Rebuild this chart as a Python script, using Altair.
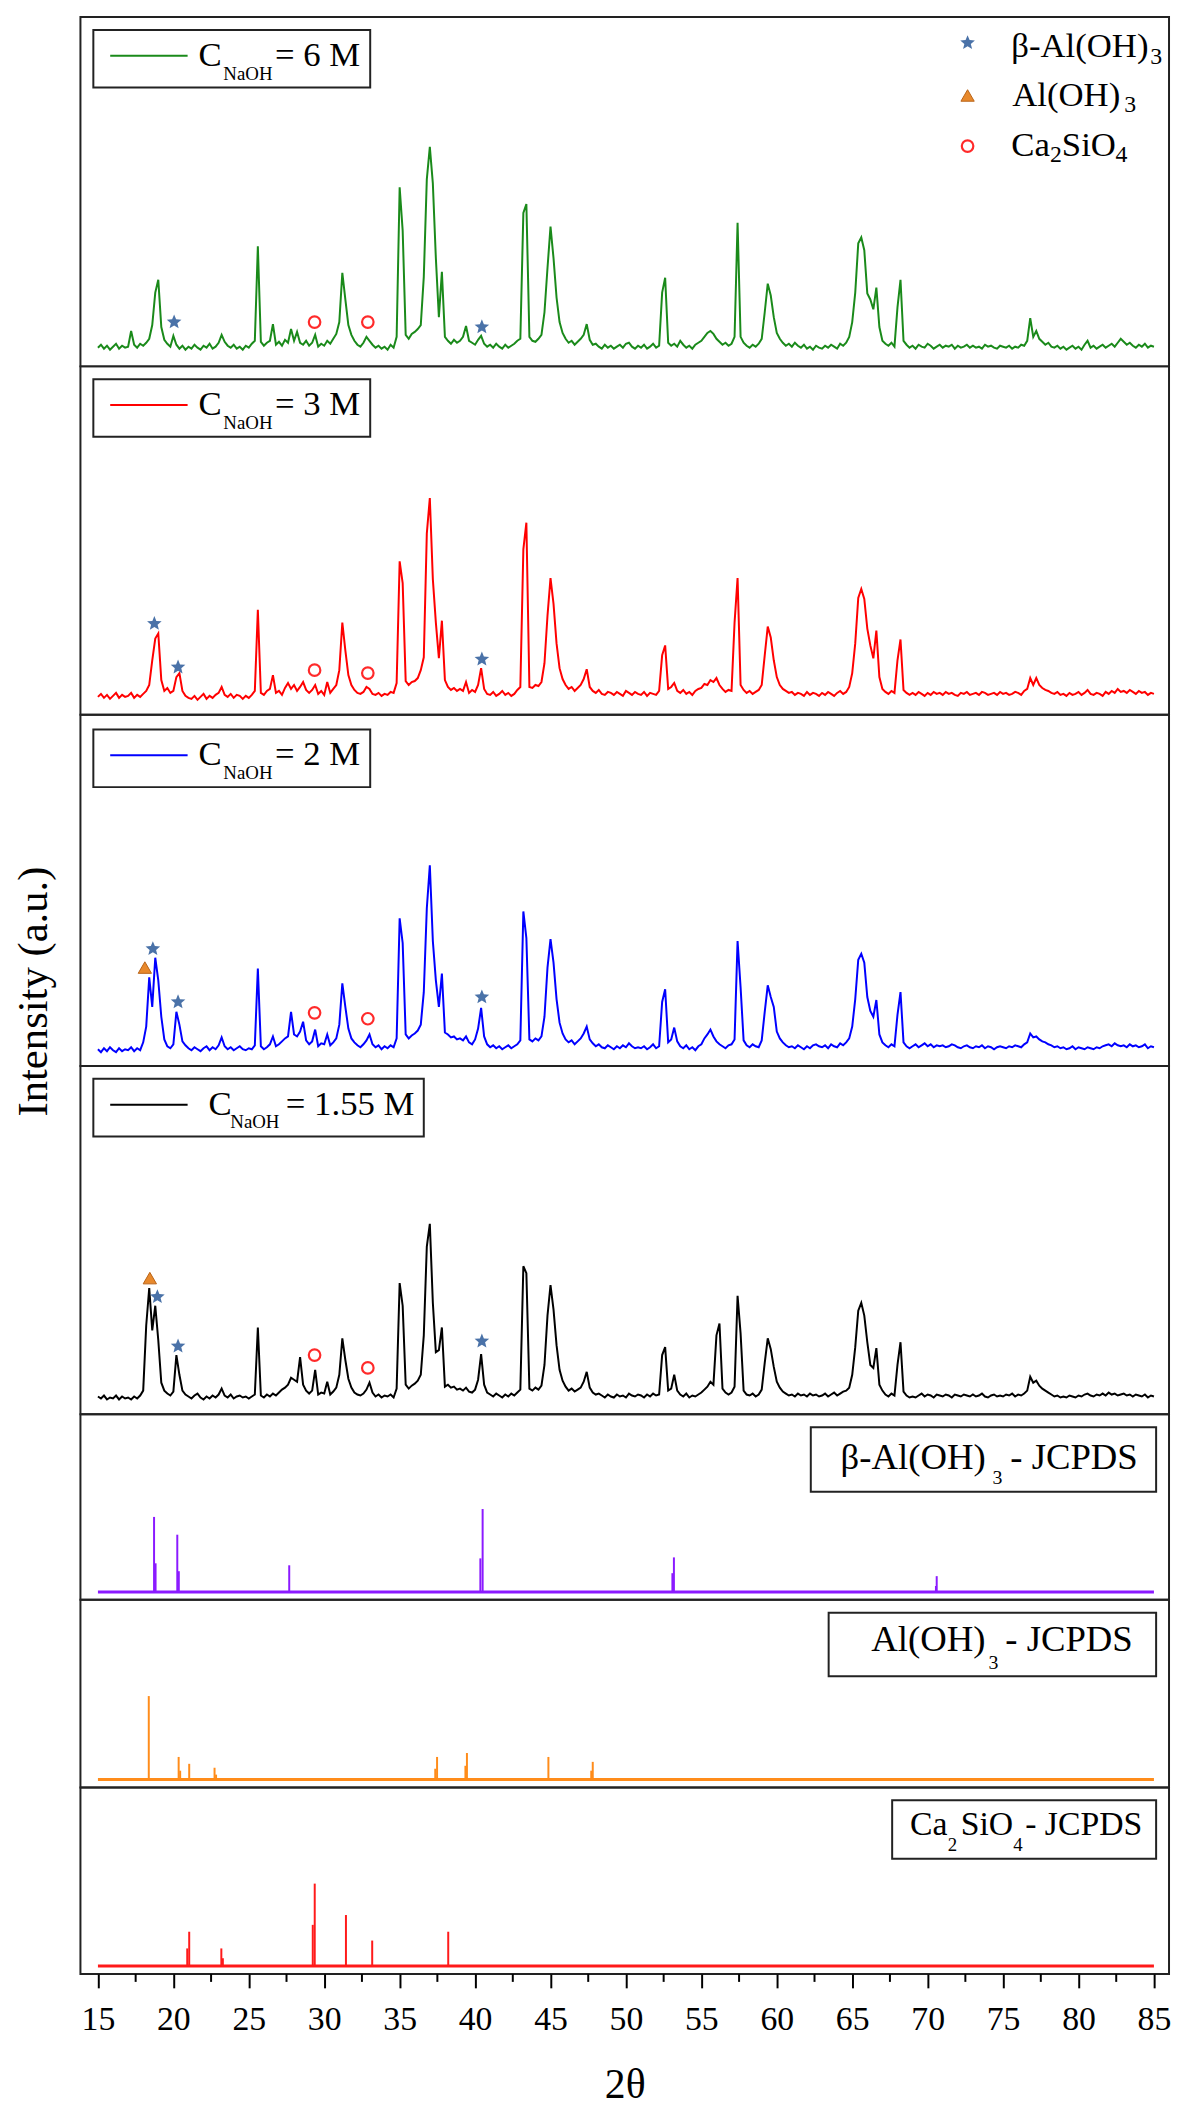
import altair as alt
import pandas as pd

FONT = "'Liberation Serif', 'Times New Roman', 'DejaVu Serif', serif"
W = 1097
XDOM = [13.84, 86.0]

# 2-theta scan positions (instrument step 0.2 deg)
two_theta = [round(15 + 0.2 * i, 1) for i in range(351)]

I_6M = [
    19, 22, 18, 21, 17, 20, 23, 18, 21, 19,
    20, 36, 22, 19, 23, 21, 24, 28, 42, 75,
    88, 40, 27, 23, 20, 31, 22, 18, 21, 17,
    20, 18, 22, 19, 17, 21, 19, 23, 18, 20,
    24, 32, 25, 21, 19, 22, 18, 20, 17, 21,
    19, 23, 26, 122, 25, 21, 24, 26, 43, 22,
    25, 21, 27, 24, 38, 26, 35, 24, 22, 26,
    21, 24, 32, 20, 23, 21, 26, 23, 28, 33,
    45, 95, 68, 42, 32, 26, 22, 20, 24, 30,
    26, 22, 19, 21, 18, 20, 17, 22, 19, 30,
    182, 138, 32, 28, 33, 35, 38, 42, 91, 190,
    223, 186, 110, 50, 96, 30, 26, 23, 27, 24,
    26, 30, 41, 26, 24, 22, 27, 31, 23, 20,
    22, 19, 23, 20, 18, 22, 19, 21, 23, 26,
    28, 156, 165, 30, 26, 25, 28, 32, 55, 100,
    142, 110, 70, 45, 34, 28, 24, 26, 22, 25,
    28, 32, 43, 27, 22, 23, 20, 18, 22, 19,
    21, 18, 20, 22, 19, 23, 24, 20, 18, 21,
    19, 22, 18, 20, 23, 19, 21, 75, 90, 24,
    21, 23, 20, 26, 22, 19, 21, 18, 22, 24,
    26, 30, 34, 36, 33, 28, 25, 22, 24, 21,
    23, 30, 146, 30, 24, 21, 19, 22, 20, 23,
    28, 55, 84, 72, 50, 34, 28, 24, 21, 23,
    20, 24, 21, 19, 22, 18, 20, 17, 21, 19,
    18, 21, 19, 22, 20, 18, 23, 21, 24, 30,
    45, 75, 125, 131, 118, 74, 68, 58, 80, 40,
    26, 23, 21, 24, 20, 60, 88, 26, 22, 19,
    21, 18, 22, 20, 19, 23, 21, 18, 20, 22,
    19, 21, 20, 22, 18, 21, 19, 20, 22, 19,
    21, 19, 20, 18, 22, 20, 21, 19, 18, 21,
    20, 19, 21, 18, 20, 19, 22, 21, 26, 49,
    30, 36, 28, 25, 22, 24, 20, 19, 21, 18,
    20, 17, 19, 21, 18, 20, 17, 22, 26, 19,
    21, 18, 20, 22, 19, 21, 23, 20, 24, 28,
    25, 22, 24, 21, 19, 22, 20, 23, 19, 21,
    20,
]

I_3M = [
    18, 21, 17, 20, 16, 19, 22, 17, 20, 18,
    19, 22, 17, 20, 18, 21, 24, 30, 55, 77,
    82, 35, 24, 27, 22, 24, 38, 42, 24, 19,
    17, 16, 19, 15, 18, 21, 16, 19, 17, 20,
    22, 28, 20, 18, 21, 17, 20, 19, 16, 19,
    17, 20, 24, 106, 22, 20, 24, 26, 40, 22,
    24, 20, 27, 32, 26, 30, 24, 28, 33, 25,
    22, 25, 30, 21, 24, 20, 33, 22, 26, 30,
    45, 93, 65, 40, 30, 25, 22, 21, 23, 28,
    26, 21, 20, 22, 19, 21, 20, 23, 22, 32,
    155, 133, 34, 30, 33, 34, 37, 45, 58, 183,
    219, 137, 93, 57, 95, 35, 28, 25, 27, 24,
    26, 24, 33, 22, 25, 23, 30, 47, 26, 21,
    20, 23, 19, 21, 24, 20, 22, 19, 21, 25,
    28, 167, 194, 28, 27, 30, 29, 33, 52, 100,
    138, 112, 72, 47, 36, 30, 26, 28, 24, 27,
    30, 36, 46, 28, 24, 22, 25, 21, 20, 23,
    22, 20, 23, 21, 19, 24, 22, 20, 23, 21,
    20, 23, 19, 22, 21, 20, 24, 60, 70, 26,
    28, 32, 24, 22, 25, 21, 23, 20, 24, 26,
    27, 31, 30, 35, 33, 37, 30, 26, 23, 25,
    24, 93, 138, 30, 25, 22, 24, 21, 23, 25,
    30, 60, 89, 78, 55, 38, 30, 26, 24, 22,
    23, 20, 22, 21, 19, 23, 20, 22, 21, 19,
    22, 20, 23, 21, 19, 22, 24, 21, 23, 28,
    42, 72, 118, 127, 117, 87, 70, 57, 85, 38,
    26, 23, 21, 24, 22, 55, 76, 25, 22, 20,
    22, 20, 23, 21, 19, 22, 20, 23, 21, 22,
    20, 23, 21, 22, 20, 19, 22, 21, 23, 20,
    21, 22, 20, 23, 22, 20, 21, 22, 20, 23,
    21, 22, 20, 21, 23, 22, 20, 24, 26, 37,
    30, 37, 30, 27, 25, 24, 22, 21, 23, 20,
    21, 19, 22, 20, 21, 23, 20, 22, 25, 21,
    20, 22, 21, 19, 23, 21, 24, 22, 26, 23,
    24, 22, 25, 23, 21, 24, 22, 23, 20, 22,
    21,
]

I_2M = [
    17, 14, 18, 15, 19, 16, 14, 18, 15, 17,
    16, 19, 15, 18, 16, 24, 40, 90, 60, 110,
    87, 50, 27, 20, 18, 22, 55, 42, 25, 21,
    18, 16, 19, 17, 15, 18, 20, 16, 19, 17,
    21, 29, 20, 17, 19, 16, 18, 20, 17, 16,
    18, 17, 21, 99, 20, 17, 19, 22, 30, 20,
    22, 25, 28, 30, 55, 32, 30, 35, 45, 26,
    22, 25, 37, 20, 23, 22, 32, 21, 24, 28,
    42, 84, 60, 38, 28, 24, 21, 19, 22, 26,
    32, 22, 19, 21, 17, 20, 18, 21, 19, 28,
    150, 125, 32, 28, 31, 33, 36, 42, 75, 160,
    204, 127, 87, 60, 94, 34, 32, 29, 30, 27,
    28, 26, 30, 24, 22, 27, 38, 59, 30, 22,
    19, 21, 18, 20, 17, 19, 21, 18, 20, 22,
    26, 157, 130, 27, 25, 28, 26, 30, 50, 100,
    129, 105, 68, 44, 33, 27, 24, 26, 22, 25,
    28, 33, 40, 27, 23, 20, 22, 19, 18, 21,
    19, 17, 20, 18, 21, 19, 23, 20, 18, 19,
    18, 20, 17, 19, 22, 18, 20, 65, 78, 24,
    27, 39, 25, 20, 18, 21, 17, 19, 16, 20,
    22, 28, 32, 37, 30, 25, 22, 20, 18, 21,
    22, 27, 127, 80, 26, 21, 19, 22, 20, 19,
    26, 55, 82, 70, 60, 35, 28, 24, 21, 19,
    20, 18, 21, 19, 17, 20, 18, 21, 22, 20,
    19, 21, 18, 22, 20, 19, 23, 21, 24, 28,
    40, 68, 108, 114, 105, 70, 56, 50, 67, 32,
    24, 21, 19, 22, 20, 52, 75, 24, 20, 18,
    20, 22, 19, 21, 23, 20, 22, 19, 21, 20,
    21, 19, 20, 22, 21, 19, 18, 20, 21, 19,
    18, 20, 19, 21, 18, 20, 19, 17, 19, 20,
    19, 18, 20, 19, 21, 20, 19, 22, 24, 33,
    29, 30, 27, 25, 24, 22, 21, 19, 20, 18,
    19, 17, 18, 20, 17, 19, 18, 17, 19, 18,
    17, 19, 18, 20, 21, 22, 20, 23, 21, 20,
    21, 19, 22, 20, 21, 19, 20, 22, 18, 20,
    19,
]

I_155M = [
    18, 16, 19, 15, 17, 16, 19, 15, 18, 16,
    17, 15, 18, 16, 19, 24, 90, 128, 85, 110,
    75, 32, 24, 21, 19, 23, 60, 40, 24, 20,
    18, 16, 19, 21, 17, 15, 18, 16, 19, 17,
    20, 26, 19, 17, 20, 16, 18, 19, 17, 18,
    16, 18, 20, 88, 19, 17, 20, 18, 21, 19,
    22, 25, 27, 30, 37, 35, 33, 58, 30, 24,
    21, 24, 45, 20, 22, 21, 33, 20, 23, 27,
    40, 77, 55, 36, 27, 22, 20, 19, 21, 25,
    32, 22, 18, 20, 17, 19, 18, 20, 17, 26,
    133, 110, 30, 26, 29, 31, 34, 40, 80, 170,
    193, 113, 63, 65, 88, 28, 30, 27, 28, 25,
    26, 24, 27, 23, 22, 25, 35, 61, 30, 22,
    20, 18, 21, 19, 17, 20, 18, 21, 19, 22,
    25, 150, 143, 26, 24, 27, 25, 29, 50, 100,
    131, 106, 70, 45, 34, 28, 24, 26, 23, 25,
    27, 33, 43, 27, 22, 20, 21, 19, 17, 20,
    18, 17, 20, 18, 19, 17, 21, 19, 18, 20,
    19, 17, 20, 18, 21, 19, 20, 60, 68, 24,
    26, 40, 24, 20, 18, 21, 17, 19, 18, 20,
    22, 25, 28, 33, 30, 80, 92, 26, 22, 20,
    22, 28, 120, 82, 24, 20, 19, 21, 18, 20,
    25, 52, 77, 66, 48, 33, 27, 23, 21, 19,
    20, 18, 21, 19, 20, 18, 21, 19, 20, 18,
    19, 21, 18, 20, 22, 19, 21, 23, 24, 27,
    40, 68, 105, 113, 100, 73, 50, 47, 67, 30,
    24, 20, 18, 21, 19, 50, 73, 23, 19, 17,
    18, 17, 19, 21, 18, 20, 19, 17, 20, 19,
    18, 20, 19, 17, 20, 19, 18, 20, 19, 18,
    20, 18, 19, 21, 18, 17, 19, 20, 18, 19,
    18, 20, 19, 21, 18, 20, 19, 21, 24, 38,
    32, 34, 29, 26, 24, 22, 20, 18, 19, 17,
    18, 17, 19, 18, 17, 19, 18, 20, 21, 19,
    18, 20, 19, 21, 19, 22, 20, 21, 19, 20,
    21, 19, 20, 18, 20, 19, 18, 20, 17, 19,
    18,
]

# JCPDS reference lines
beta_pos = [18.72, 18.82, 20.26, 20.36, 27.68, 40.35, 40.5, 53.08, 53.18, 70.55, 70.6]
beta_int = [84, 37, 66, 29, 35, 42, 92, 27, 43, 14, 24]
gibb_pos = [18.37, 20.35, 20.45, 21.05, 22.73, 22.83, 37.36, 37.48, 39.36, 39.46, 44.86, 47.7, 47.8]
gibb_int = [93, 31, 17, 24, 20, 13, 19, 31, 22, 35, 31, 17, 26]
cs_pos = [20.92, 21.05, 23.18, 23.28, 29.24, 29.37, 31.44, 33.18, 38.22]
cs_int = [26, 43, 26, 16, 50, 92, 60, 34, 43]
ref_base = 8

# phase markers per sample: position, height, phase
m6_x = [20.05, 29.36, 32.89, 40.45]
m6_y = [45, 45, 45, 40]
m6_k = ["star", "circle", "circle", "star"]
m3_x = [18.74, 20.31, 29.36, 32.89, 40.45]
m3_y = [92, 48, 45, 42, 56]
m3_k = ["star", "star", "circle", "circle", "star"]
m2_x = [18.11, 18.64, 20.31, 29.36, 32.89, 40.45]
m2_y = [100, 119, 65, 54, 48, 70]
m2_k = ["tri", "star", "star", "circle", "circle", "star"]
m1_x = [18.44, 18.94, 20.31, 29.36, 32.89, 40.45]
m1_y = [138, 119, 69, 60, 47, 74]
m1_k = ["tri", "star", "star", "circle", "circle", "star"]

minor_ticks = [17.5, 22.5, 27.5, 32.5, 37.5, 42.5, 47.5, 52.5, 57.5, 62.5, 67.5, 72.5, 77.5, 82.5]
major_ticks = [15, 20, 25, 30, 35, 40, 45, 50, 55, 60, 65, 70, 75, 80, 85]

STAR = "M0,-1L0.26,-0.36L0.95,-0.31L0.42,0.14L0.59,0.81L0,0.45L-0.59,0.81L-0.42,0.14L-0.95,-0.31L-0.26,-0.36Z"
STAR_C = "#4a72a8"
TRI_C = "#e8892c"
CIRC_C = "#ff2a2a"
STAR_S = 240
TRI_S = 180
CIRC_S = 135

ONE = pd.DataFrame({"a": [0]})
XS = alt.Scale(domain=XDOM, nice=False, zero=False)


def txt(s, x, y, size, align="left", baseline="alphabetic", angle=0):
    kw = dict(text=s, align=align, baseline=baseline, font=FONT, fontSize=size, color="black")
    if angle:
        kw["angle"] = angle
    return alt.Chart(ONE).mark_text(**kw).encode(x=alt.value(x), y=alt.value(y))


def box(x1, x2, y1, y2):
    return alt.Chart(ONE).mark_rect(fill="white", stroke="#222", strokeWidth=2).encode(
        x=alt.value(x1), x2=alt.value(x2), y=alt.value(y1), y2=alt.value(y2))


def hline(x1, x2, y, color, w=2):
    return alt.Chart(ONE).mark_rule(color=color, strokeWidth=w).encode(
        x=alt.value(x1), x2=alt.value(x2), y=alt.value(y))


def star_at(x, y):
    return alt.Chart(ONE).mark_point(shape=STAR, filled=True, color=STAR_C, size=STAR_S, opacity=1).encode(
        x=alt.value(x), y=alt.value(y))


def tri_at(x, y):
    return alt.Chart(ONE).mark_point(shape="triangle-up", filled=True, fill=TRI_C, stroke="#b86418",
                                     strokeWidth=1, size=TRI_S, opacity=1).encode(x=alt.value(x), y=alt.value(y))


def circ_at(x, y):
    return alt.Chart(ONE).mark_point(shape="circle", filled=False, color=CIRC_C, strokeWidth=2.2,
                                     size=CIRC_S, opacity=1).encode(x=alt.value(x), y=alt.value(y))


def markers(xv, yv, kv, X, Y):
    df = pd.DataFrame({"x": xv, "y": yv, "k": kv})
    out = []
    d = df[df.k == "star"]
    if len(d):
        out.append(alt.Chart(d).mark_point(shape=STAR, filled=True, color=STAR_C, size=STAR_S, opacity=1)
                   .encode(x=X, y=Y))
    d = df[df.k == "tri"]
    if len(d):
        out.append(alt.Chart(d).mark_point(shape="triangle-up", filled=True, fill=TRI_C, stroke="#b86418",
                                           strokeWidth=1, size=TRI_S, opacity=1).encode(x=X, y=Y))
    d = df[df.k == "circle"]
    if len(d):
        out.append(alt.Chart(d).mark_point(shape="circle", filled=False, color=CIRC_C, strokeWidth=2.2,
                                           size=CIRC_S, opacity=1).encode(x=X, y=Y))
    return out


def sample_panel(vals, color, h, ytop, mk, rest, bx2=292, cx=119, subx=144, restx=196, dy=0, extra=None):
    X = alt.X("x:Q", scale=XS, axis=None)
    Y = alt.Y("y:Q", scale=alt.Scale(domain=[0, ytop], nice=False, zero=False), axis=None)
    df = pd.DataFrame({"x": two_theta, "y": vals})
    layers = [alt.Chart(df).mark_line(color=color, strokeWidth=2).encode(x=X, y=Y)]
    layers += markers(mk[0], mk[1], mk[2], X, Y)
    layers += [
        box(13, bx2, 13 + dy, 71 + dy),
        hline(30, 108, 39 + dy, color),
        txt("C", cx, 49 + dy, 35),
        txt("NaOH", subx, 63 + dy, 19),
        txt(rest, restx, 49 + dy, 35),
    ]
    if extra:
        layers += extra
    return alt.layer(*layers).properties(width=W, height=h)


def ref_panel(pos, inten, color, h, ytop, label_layers, axis=None, extra=None):
    X = alt.X("x:Q", scale=XS, axis=axis)
    Y = alt.Y("y:Q", scale=alt.Scale(domain=[0, ytop], nice=False, zero=False), axis=None)
    sticks = pd.DataFrame({"x": pos, "y": inten, "y0": [ref_base] * len(pos)})
    base = pd.DataFrame({"x": [15.0], "x2": [85.0], "y": [ref_base]})
    layers = [
        alt.Chart(base).mark_rule(color=color, strokeWidth=3).encode(x=X, x2="x2:Q", y=Y),
        alt.Chart(sticks).mark_rule(color=color, strokeWidth=2).encode(x=X, y=Y, y2="y0:Q"),
    ]
    if extra:
        layers += extra(X)
    layers += label_layers
    return alt.layer(*layers).properties(width=W, height=h)


H = [352, 351, 354, 351, 187, 189, 188]

legend_tr = [
    star_at(894, 26), txt("β-Al(OH)", 938, 40, 35), txt("3", 1078, 47, 24),
    tri_at(894, 79), txt("Al(OH)", 939, 90, 35), txt("3", 1052, 96, 24),
    circ_at(894, 130), txt("Ca", 938, 140, 35), txt("2", 977, 146, 24),
    txt("SiO", 989, 140, 35), txt("4", 1043, 146, 24),
]

p1 = sample_panel(I_6M, "#1a8a1a", H[0], 355, (m6_x, m6_y, m6_k), "= 6 M", extra=legend_tr)
p2 = sample_panel(I_3M, "#ff0000", H[1], 352, (m3_x, m3_y, m3_k), "= 3 M")
p3 = sample_panel(I_2M, "#0000ff", H[2], 357, (m2_x, m2_y, m2_k), "= 2 M", dy=2,
                  extra=[txt("Intensity (a.u.)", -68, 279, 43, align="center", baseline="top", angle=270)])
p4 = sample_panel(I_155M, "#000000", H[3], 353, (m1_x, m1_y, m1_k), "= 1.55 M",
                  bx2=346, cx=129, subx=151, restx=207)

lab5 = [box(736, 1084, 13, 78), txt("β-Al(OH)", 766, 55, 37), txt("3", 919, 70, 20), txt("- JCPDS", 937, 55, 37)]
lab6 = [box(754, 1084, 13, 77), txt("Al(OH)", 797, 52, 37), txt("3", 915, 70, 20), txt("- JCPDS", 932, 52, 37)]
lab7 = [box(818, 1084, 13, 72), txt("Ca", 836, 48, 34), txt("2", 874, 64, 19), txt("SiO", 887, 48, 34),
        txt("4", 940, 64, 19), txt("- JCPDS", 952, 48, 34)]

bottom_axis = alt.Axis(
    values=major_ticks, title="2θ", titleFont=FONT, titleFontSize=42, titleFontWeight="normal",
    titleColor="black", titleY=112, titleBaseline="middle", labelFont=FONT, labelFontSize=34,
    labelColor="black", labelPadding=15, tickSize=14, tickWidth=2, tickColor="black",
    domain=False, grid=False, labelFlush=False, labelOverlap=False, format="d")


def minor_layer(X):
    d = pd.DataFrame({"x": minor_ticks})
    return [alt.Chart(d).mark_rule(color="black", strokeWidth=2).encode(
        x=X, y=alt.value(H[6]), y2=alt.value(H[6] + 8))]


p5 = ref_panel(beta_pos, beta_int, "#8b1aff", H[4], 188, lab5)
p6 = ref_panel(gibb_pos, gibb_int, "#ff8c1a", H[5], 191, lab6)
p7 = ref_panel(cs_pos, cs_int, "#ff1a1a", H[6], 190, lab7, axis=bottom_axis, extra=minor_layer)

chart = alt.vconcat(p1, p2, p3, p4, p5, p6, p7, spacing=0, bounds="flush").resolve_scale(
    y="independent").properties(padding={"left": 4, "top": 0, "right": 0, "bottom": 0}).configure_view(
    stroke="#222", strokeWidth=2)

chart.save("out.html", embed_options={"renderer": "svg", "actions": False})
